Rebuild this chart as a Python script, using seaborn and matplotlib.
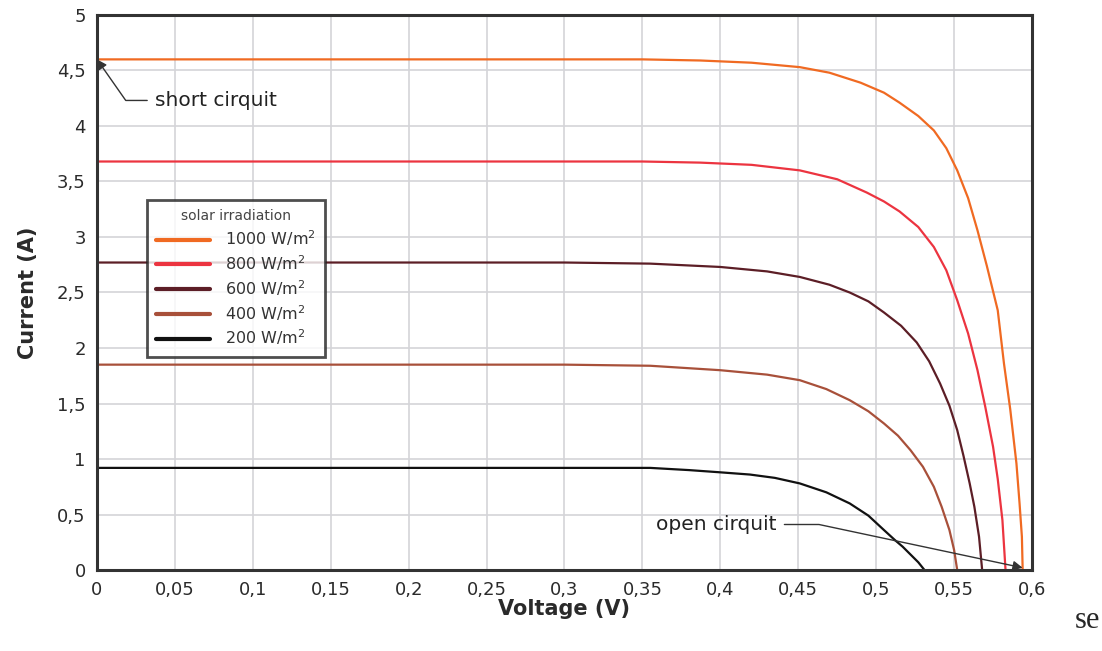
import matplotlib
matplotlib.use("Agg")
import matplotlib.pyplot as plt
import numpy as np
import pandas as pd
import seaborn as sns

# I-V curves of a solar cell at different irradiation levels
levels = ["1000 W/m$^2$", "800 W/m$^2$", "600 W/m$^2$", "400 W/m$^2$", "200 W/m$^2$"]
colors = ["#f06a22", "#ec3440", "#5c1e26", "#a8503a", "#111111"]

v_1000 = [0, 0.1, 0.2, 0.3, 0.35, 0.387, 0.42, 0.451, 0.47, 0.49, 0.505, 0.515, 0.527, 0.537,
          0.545, 0.552, 0.559, 0.565, 0.571, 0.578, 0.582, 0.586, 0.590, 0.592, 0.5935, 0.594]
i_1000 = [4.60, 4.60, 4.60, 4.60, 4.60, 4.59, 4.57, 4.53, 4.48, 4.39, 4.30, 4.21, 4.09, 3.96,
          3.80, 3.60, 3.35, 3.06, 2.74, 2.34, 1.86, 1.45, 0.96, 0.60, 0.30, 0.0]

v_800 = [0, 0.1, 0.2, 0.3, 0.35, 0.387, 0.42, 0.451, 0.475, 0.494, 0.505, 0.515, 0.527, 0.537,
         0.545, 0.552, 0.559, 0.565, 0.570, 0.575, 0.578, 0.581, 0.583]
i_800 = [3.68, 3.68, 3.68, 3.68, 3.68, 3.67, 3.65, 3.60, 3.52, 3.40, 3.32, 3.23, 3.09, 2.91,
         2.70, 2.43, 2.13, 1.80, 1.47, 1.11, 0.82, 0.45, 0.0]

v_600 = [0, 0.1, 0.2, 0.3, 0.355, 0.40, 0.43, 0.451, 0.47, 0.483, 0.495, 0.505, 0.516, 0.526,
         0.534, 0.541, 0.547, 0.552, 0.556, 0.560, 0.563, 0.566, 0.568]
i_600 = [2.77, 2.77, 2.77, 2.77, 2.76, 2.73, 2.69, 2.64, 2.57, 2.50, 2.42, 2.32, 2.20, 2.05,
         1.88, 1.68, 1.48, 1.26, 1.03, 0.78, 0.57, 0.30, 0.0]

v_400 = [0, 0.1, 0.2, 0.3, 0.355, 0.40, 0.43, 0.451, 0.468, 0.483, 0.495, 0.505, 0.514, 0.522,
         0.530, 0.537, 0.542, 0.547, 0.550, 0.552]
i_400 = [1.85, 1.85, 1.85, 1.85, 1.84, 1.80, 1.76, 1.71, 1.63, 1.53, 1.43, 1.32, 1.21, 1.08,
         0.93, 0.75, 0.57, 0.36, 0.18, 0.0]

v_200 = [0, 0.1, 0.2, 0.3, 0.355, 0.38, 0.40, 0.419, 0.435, 0.451, 0.468, 0.483, 0.495, 0.505,
         0.512, 0.517, 0.522, 0.527, 0.531]
i_200 = [0.92, 0.92, 0.92, 0.92, 0.92, 0.90, 0.88, 0.86, 0.83, 0.78, 0.70, 0.60, 0.49, 0.36,
         0.27, 0.21, 0.14, 0.07, 0.0]

x_ticks = [0, 0.05, 0.1, 0.15, 0.2, 0.25, 0.3, 0.35, 0.4, 0.45, 0.5, 0.55, 0.6]
y_ticks = [0, 0.5, 1, 1.5, 2, 2.5, 3, 3.5, 4, 4.5, 5]

frames = []
for name, v, i in zip(levels, [v_1000, v_800, v_600, v_400, v_200],
                      [i_1000, i_800, i_600, i_400, i_200]):
    frames.append(pd.DataFrame({"voltage": v, "current": i, "irradiation": name}))
df = pd.concat(frames, ignore_index=True)

sns.set_theme(style="white")
plt.rcParams["font.family"] = ["DejaVu Sans"]

fig = plt.figure(figsize=(11.02, 6.51), dpi=100)
ax = fig.add_axes([0.088, 0.1244, 0.8485, 0.8526])

sns.lineplot(data=df, x="voltage", y="current", hue="irradiation", hue_order=levels,
             palette=colors, sort=False, estimator=None, linewidth=1.6, ax=ax)

ax.set_xlim(0, 0.6)
ax.set_ylim(0, 5)
ax.set_xticks(x_ticks)
ax.set_yticks(y_ticks)
fmt = lambda val, pos: f"{val:g}".replace(".", ",")
ax.xaxis.set_major_formatter(plt.FuncFormatter(fmt))
ax.yaxis.set_major_formatter(plt.FuncFormatter(fmt))
ax.tick_params(axis="both", length=0, labelsize=13, labelcolor="#2a2a2a", pad=8)
ax.grid(True, color="#d4d4d8", linewidth=1.2)
for s in ax.spines.values():
    s.set_color("#333333")
    s.set_linewidth(2.2)

ax.set_xlabel("Voltage (V)", fontsize=15, fontweight="bold", color="#2a2a2a", labelpad=0)
ax.set_ylabel("Current (A)", fontsize=15, fontweight="bold", color="#2a2a2a", labelpad=14)

ax.annotate("short cirquit", xy=(0.0, 4.6), xytext=(0.037, 4.23),
            fontsize=14.5, color="#222222", va="center", ha="left",
            arrowprops=dict(arrowstyle="-|>", color="#333333", lw=1.0,
                            shrinkA=3, shrinkB=0,
                            connectionstyle="angle,angleA=0,angleB=-55,rad=0"))
ax.annotate("open cirquit", xy=(0.594, 0.02), xytext=(0.359, 0.41),
            fontsize=14.5, color="#222222", va="center", ha="left",
            arrowprops=dict(arrowstyle="-|>", color="#333333", lw=1.0,
                            shrinkA=3, shrinkB=0,
                            connectionstyle="angle,angleA=0,angleB=-12,rad=0"))

leg = ax.legend(title="solar irradiation", loc="upper left", bbox_to_anchor=(0.053, 0.667),
                borderaxespad=0, fontsize=11.5, title_fontsize=10, frameon=True, fancybox=False,
                handlelength=3.4, handletextpad=0.9, labelspacing=0.32, borderpad=0.6)
leg.get_frame().set_edgecolor("#222222")
leg.get_frame().set_linewidth(2.0)
for line in leg.get_lines():
    line.set_linewidth(3)
for t in leg.get_texts():
    t.set_color("#333333")
leg.get_title().set_color("#444444")

fig.text(0.975, 0.035, "se", fontsize=22, family="Liberation Serif", ha="left", va="baseline")

fig.savefig("out.png", dpi=100)
